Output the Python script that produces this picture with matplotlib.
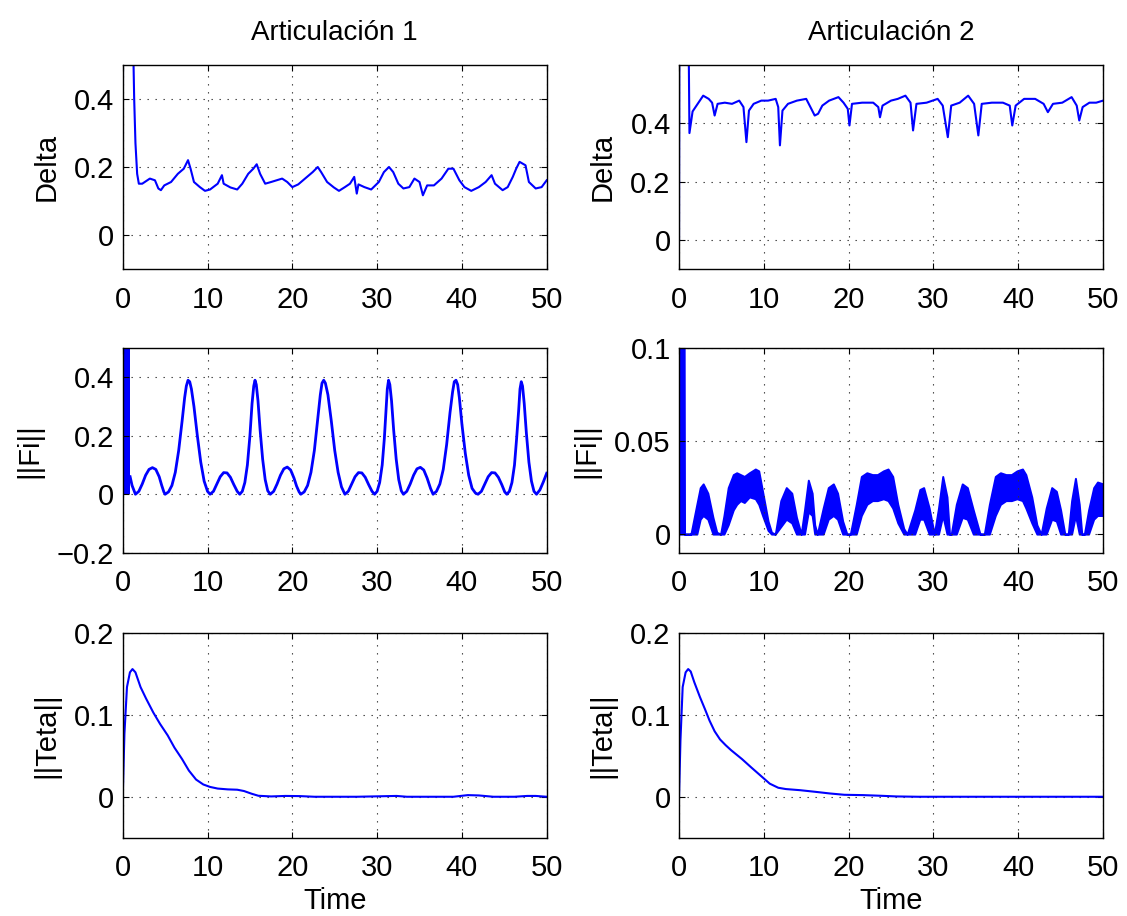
import numpy as np
import matplotlib.pyplot as plt
import matplotlib

params = {'font.family': ['Liberation Sans', 'DejaVu Sans'],
          'font.size': 21,
          'axes.linewidth': 1.0,
          'xtick.direction': 'in',
          'ytick.direction': 'in',
          'xtick.top': True,
          'ytick.right': True,
          'xtick.major.size': 4,
          'ytick.major.size': 4,
          'xtick.major.pad': 12,
          'ytick.major.pad': 6,
          'axes.labelpad': 10}
matplotlib.rcParams.update(params)

titles = ['Articulación 1', 'Articulación 2']
xticks = [0, 10, 20, 30, 40, 50]

# Delta, articulacion 1
t_delta1 = [0, 0.05, 0.6, 1.2, 1.35, 1.5, 1.7, 1.9, 2.3, 3.2, 3.8, 4.2, 4.5, 4.9, 5.7, 6.5, 7.2, 7.7, 8.0,
            8.4, 9.1, 9.7, 10.3, 11.2, 11.7, 11.9, 12.7, 13.5, 14.1, 14.8, 15.4, 15.8, 16.2, 16.8, 17.5,
            18.8, 19.4, 20.0, 20.7, 21.5, 22.4, 23.0, 23.4, 24.1, 24.9, 25.5, 26.2, 26.8, 27.3, 27.6,
            27.8, 28.5, 29.3, 30.2, 30.8, 31.4, 31.9, 32.5, 33.1, 33.8, 34.4, 35.0, 35.4, 35.9, 36.7,
            37.6, 38.4, 39.0, 39.7, 40.3, 41.1, 42.0, 42.8, 43.5, 43.9, 44.8, 45.4, 46.0, 46.4, 46.8,
            47.5, 47.9, 48.7, 49.4, 50.0]
delta1 = [0, 0.8, 1.0, 0.6, 0.4, 0.27, 0.18, 0.151, 0.151, 0.166, 0.161, 0.137, 0.132, 0.146, 0.156, 0.18,
          0.195, 0.22, 0.195, 0.156, 0.141, 0.13, 0.134, 0.151, 0.176, 0.151, 0.14, 0.134, 0.151, 0.18,
          0.195, 0.208, 0.18, 0.151, 0.156, 0.166, 0.156, 0.141, 0.149, 0.166, 0.185, 0.2, 0.185, 0.156,
          0.14, 0.13, 0.141, 0.151, 0.171, 0.122, 0.149, 0.141, 0.134, 0.156, 0.185, 0.2, 0.185, 0.151,
          0.137, 0.141, 0.166, 0.156, 0.117, 0.146, 0.146, 0.166, 0.195, 0.195, 0.161, 0.141, 0.13,
          0.141, 0.156, 0.176, 0.151, 0.132, 0.141, 0.171, 0.195, 0.215, 0.205, 0.156, 0.137, 0.141,
          0.161]

# Delta, articulacion 2
t_delta2 = [0, 0.05, 0.6, 1.1, 1.23, 1.6, 2.2, 2.85, 3.5, 3.9, 4.2, 4.55, 5.4, 6.25, 7.1, 7.6, 7.95, 8.25,
            8.8, 9.7, 10.5, 11.4, 11.7, 11.9, 12.2, 12.85, 13.9, 15.0, 15.6, 16.0, 16.4, 16.9, 17.7,
            18.8, 19.4, 19.9, 20.1, 20.4, 21.6, 22.9, 23.5, 23.7, 24.0, 25.0, 25.8, 26.7, 27.3, 27.6,
            28.0, 29.2, 30.5, 31.1, 31.7, 32.1, 33.1, 34.1, 34.8, 35.3, 35.7, 36.9, 38.2, 39.0, 39.3,
            39.7, 40.7, 42.0, 43.0, 43.5, 44.1, 45.2, 46.3, 46.9, 47.2, 47.6, 48.4, 49.2, 50.0]
delta2 = [0, 0.9, 1.0, 0.8, 0.366, 0.44, 0.466, 0.494, 0.483, 0.47, 0.426, 0.466, 0.47, 0.466, 0.477,
          0.455, 0.335, 0.443, 0.466, 0.477, 0.477, 0.483, 0.455, 0.324, 0.443, 0.466, 0.477, 0.483,
          0.449, 0.426, 0.432, 0.46, 0.477, 0.489, 0.47, 0.449, 0.392, 0.466, 0.47, 0.47, 0.455, 0.42,
          0.46, 0.477, 0.483, 0.494, 0.47, 0.375, 0.466, 0.47, 0.483, 0.46, 0.352, 0.46, 0.47, 0.494,
          0.466, 0.358, 0.466, 0.47, 0.47, 0.46, 0.392, 0.46, 0.483, 0.483, 0.466, 0.4375, 0.466, 0.47,
          0.489, 0.46, 0.409, 0.455, 0.47, 0.47, 0.477]

# ||Fi||, articulacion 1 (burst at start + smooth curve)
t_fi1_burst = [0, 0.87]
fi1_burst = [0.6, 0.6]
t_fi1 = [0.87, 0.95, 1.1, 1.5,
         1.9, 2.3, 2.7, 3.1, 3.5, 3.9, 4.3, 4.6, 4.85, 5.0,
         5.4, 5.8, 6.2, 6.6, 7.0, 7.3, 7.5, 7.7, 7.9, 8.1, 8.4, 8.8, 9.2, 9.6, 10.0, 10.3,
         10.7, 11.1, 11.5, 11.9, 12.3, 12.7, 13.1, 13.5, 13.8,
         14.1, 14.4, 14.7, 15.0, 15.25, 15.45, 15.6, 15.75, 15.95, 16.2, 16.5, 16.8, 17.1, 17.4,
         17.8, 18.2, 18.6, 19.0, 19.4, 19.8, 20.2, 20.5, 20.8, 21.0,
         21.4, 21.8, 22.2, 22.6, 23.0, 23.3, 23.5, 23.7, 23.9, 24.2, 24.6, 25.0, 25.4, 25.8, 26.2,
         26.6, 27.0, 27.4, 27.8, 28.2, 28.6, 29.0, 29.4, 29.7,
         30.0, 30.3, 30.6, 30.85, 31.05, 31.2, 31.35, 31.5, 31.7, 31.95, 32.25, 32.55, 32.85, 33.1,
         33.5, 33.9, 34.3, 34.7, 35.1, 35.5, 35.9, 36.3, 36.6,
         37.0, 37.4, 37.8, 38.2, 38.6, 38.9, 39.1, 39.3, 39.5, 39.7, 40.0, 40.4, 40.8, 41.2, 41.6, 41.9,
         42.3, 42.7, 43.1, 43.5, 43.9, 44.3, 44.7, 45.05, 45.3,
         45.6, 45.9, 46.2, 46.45, 46.7, 46.85, 47.0, 47.15, 47.35, 47.6, 47.9, 48.2, 48.5, 48.8,
         49.2, 49.6, 50.0]
fi1 = [0.06, 0.05, 0.03, 0.0,
       0.01, 0.035, 0.065, 0.085, 0.091, 0.085, 0.06, 0.03, 0.008, 0.0,
       0.008, 0.03, 0.075, 0.15, 0.25, 0.33, 0.37, 0.39, 0.385, 0.36, 0.3, 0.2, 0.11, 0.045, 0.01, 0.0,
       0.01, 0.035, 0.06, 0.074, 0.073, 0.058, 0.033, 0.01, 0.0,
       0.01, 0.04, 0.1, 0.2, 0.31, 0.37, 0.39, 0.375, 0.32, 0.22, 0.12, 0.05, 0.012, 0.0,
       0.01, 0.035, 0.065, 0.087, 0.093, 0.083, 0.055, 0.028, 0.008, 0.0,
       0.008, 0.03, 0.075, 0.15, 0.26, 0.34, 0.38, 0.39, 0.38, 0.34, 0.25, 0.15, 0.075, 0.025, 0.0,
       0.01, 0.035, 0.06, 0.074, 0.073, 0.058, 0.033, 0.01, 0.0,
       0.01, 0.04, 0.1, 0.19, 0.29, 0.36, 0.39, 0.375, 0.32, 0.22, 0.12, 0.05, 0.012, 0.0,
       0.01, 0.035, 0.065, 0.087, 0.092, 0.083, 0.055, 0.02, 0.0,
       0.01, 0.035, 0.085, 0.17, 0.28, 0.35, 0.385, 0.39, 0.375, 0.33, 0.24, 0.14, 0.065, 0.02, 0.004, 0.0,
       0.01, 0.035, 0.06, 0.074, 0.073, 0.058, 0.033, 0.008, 0.0,
       0.01, 0.04, 0.1, 0.19, 0.29, 0.36, 0.385, 0.37, 0.31, 0.21, 0.11, 0.045, 0.01, 0.0,
       0.015, 0.042, 0.072]

# ||Fi||, articulacion 2 (fast oscillation drawn as a band: lower / upper envelope)
t_fi2 = [0, 0.6, 0.65, 1.4, 2.1, 2.5, 2.85, 3.4, 4.0, 4.45, 4.9, 5.3, 5.8, 6.4, 6.8, 7.25, 7.7, 8.3, 9.0,
         9.4, 9.85, 10.5, 10.9, 11.35, 12.0, 12.65, 13.3, 13.85, 14.4, 14.8, 15.25, 15.7, 16.0, 16.3,
         17.0, 17.6, 18.2, 18.7, 19.3, 19.8, 20.2, 20.9, 21.5, 22.15, 22.8, 23.4, 24.1, 24.65, 25.2,
         25.8, 26.5, 26.9, 27.8, 28.4, 28.85, 29.5, 30.1, 30.6, 31.1, 31.6, 31.9, 32.1, 32.7, 33.4,
         34.0, 34.7, 35.5, 36.0, 36.6, 37.3, 37.9, 38.55, 39.2, 39.85, 40.5, 40.9, 41.6, 42.2, 42.7,
         43.3, 43.95, 44.5, 45.0, 45.5, 45.9, 46.3, 46.75, 47.2, 47.5, 47.8, 48.3, 48.9, 49.35, 50.0]
fi2_upper = [0.12, 0.12, 0, 0, 0.016, 0.025, 0.027, 0.022, 0.009, 0.001, 0, 0.010, 0.025, 0.032, 0.033,
             0.032, 0.031, 0.033, 0.035, 0.034, 0.023, 0.007, 0.001, 0, 0.018, 0.025, 0.022, 0.009, 0,
             0.013, 0.029, 0.022, 0.005, 0, 0.014, 0.025, 0.027, 0.022, 0.007, 0, 0, 0.016, 0.031,
             0.033, 0.032, 0.032, 0.034, 0.035, 0.031, 0.016, 0.003, 0, 0.013, 0.024, 0.025, 0.014, 0,
             0.014, 0.031, 0.02, 0, 0, 0.016, 0.027, 0.025, 0.013, 0, 0, 0.016, 0.031, 0.033, 0.032,
             0.032, 0.034, 0.035, 0.032, 0.02, 0.005, 0, 0.014, 0.025, 0.023, 0.013, 0, 0, 0.018, 0.030,
             0.016, 0, 0, 0.013, 0.025, 0.028, 0.027]
fi2_lower = [0, 0, 0, 0, 0, 0.008, 0.01, 0.008, 0, 0, 0, 0, 0.005, 0.013, 0.016, 0.018, 0.017, 0.02,
             0.019, 0.016, 0.01, 0.002, 0, 0, 0.004, 0.008, 0.006, 0, 0, 0, 0.012, 0.01, 0, 0, 0, 0.008,
             0.01, 0.008, 0, 0, 0, 0, 0.01, 0.016, 0.018, 0.018, 0.019, 0.018, 0.014, 0.006, 0, 0, 0,
             0.008, 0.008, 0, 0, 0, 0.01, 0, 0, 0, 0, 0.009, 0.008, 0, 0, 0, 0, 0.01, 0.016, 0.018,
             0.018, 0.019, 0.018, 0.014, 0.006, 0, 0, 0, 0.008, 0.007, 0, 0, 0, 0, 0.01, 0, 0, 0, 0,
             0.008, 0.01, 0.01]

# ||Teta||
t_teta1 = [0, 0.2, 0.5, 0.85, 1.15, 1.5, 2.1, 2.75, 3.6, 4.4, 5.3, 6.1, 7.0, 7.8, 8.65, 9.5, 10.3, 11.2,
           12.4, 13.5, 14.3, 15.2, 16.0, 17.5, 19.2, 20.9, 22.6, 27.6, 32.3, 33.5, 36.0, 39.0, 40.7,
           42.0, 43.7, 46.2, 47.7, 48.7, 50.0]
teta1 = [0, 0.077, 0.134, 0.152, 0.156, 0.152, 0.134, 0.12, 0.103, 0.089, 0.075, 0.06, 0.046, 0.032,
         0.021, 0.015, 0.012, 0.010, 0.009, 0.0086, 0.007, 0.0037, 0.0012, 0.0004, 0.001, 0.0008, 0,
         0, 0.001, 0, 0, 0, 0.002, 0.0016, 0, 0, 0.001, 0.001, 0]
t_teta2 = [0, 0.17, 0.43, 0.78, 1.08, 1.38, 1.8, 2.46, 3.1, 3.6, 4.2, 4.84, 5.5, 6.13, 7.43, 8.5, 9.6,
           10.7, 11.7, 12.6, 14.3, 16.1, 17.8, 19.5, 21.7, 23.8, 25.6, 28.2, 50.0]
teta2 = [0, 0.069, 0.134, 0.152, 0.156, 0.153, 0.14, 0.122, 0.106, 0.093, 0.08, 0.07, 0.063, 0.057,
         0.046, 0.036, 0.026, 0.016, 0.011, 0.0094, 0.008, 0.006, 0.004, 0.0024, 0.002, 0.0012, 0.0004,
         0, 0]

fig = plt.figure(figsize=(11.27, 9.16), dpi=100)
xl = [0.1089, 0.6025]
w = 0.3762
rows_y = [0.7060, 0.3966, 0.0855]
h = 0.2234
axs = [[fig.add_axes([x0, y0, w, h]) for x0 in xl] for y0 in rows_y]

blue = (0, 0, 1)
lw = 1.5

axs[0][0].plot(t_delta1, delta1, color=blue, lw=lw)
axs[0][1].plot(t_delta2, delta2, color=blue, lw=lw)
axs[1][0].fill_between(t_fi1_burst, 0, fi1_burst, color=blue, lw=0)
axs[1][0].plot(t_fi1, fi1, color=blue, lw=2.0)
axs[1][1].fill_between(t_fi2, fi2_lower, fi2_upper, color=blue, lw=1.4, edgecolor=blue)
axs[2][0].plot(t_teta1, teta1, color=blue, lw=lw)
axs[2][1].plot(t_teta2, teta2, color=blue, lw=lw)

ylims = [[(-0.1, 0.5), (-0.1, 0.6)], [(-0.2, 0.5), (-0.01, 0.1)], [(-0.05, 0.2), (-0.05, 0.2)]]
yticks = [[[0, 0.2, 0.4], [0, 0.2, 0.4]], [[-0.2, 0, 0.2, 0.4], [0, 0.05, 0.1]],
          [[0, 0.1, 0.2], [0, 0.1, 0.2]]]
ytlabels = [[['0', '0.2', '0.4'], ['0', '0.2', '0.4']], [['\u22120.2', '0', '0.2', '0.4'], ['0', '0.05', '0.1']],
            [['0', '0.1', '0.2'], ['0', '0.1', '0.2']]]
ylabels = ['Delta', '||Fi||', '||Teta||']

for r in range(3):
    for c in range(2):
        ax = axs[r][c]
        ax.set_xlim(0, 50)
        ax.set_ylim(*ylims[r][c])
        ax.set_xticks(xticks)
        ax.set_yticks(yticks[r][c])
        ax.set_yticklabels(ytlabels[r][c])
        ax.set_ylabel(ylabels[r])
        ax.grid(True, color='0.2', linestyle=(0, (1.2, 6)), linewidth=0.8)
        if r == 0:
            ax.set_title(titles[c], pad=18, fontsize=20)
        if r == 2:
            ax.set_xlabel('Time', labelpad=3)

plt.savefig('out.png', dpi=100)
